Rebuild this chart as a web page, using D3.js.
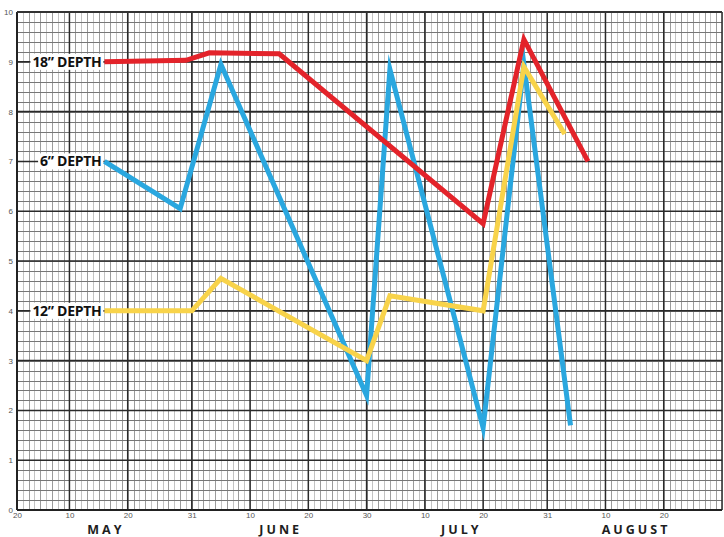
<!DOCTYPE html>
<html><head><meta charset="utf-8">
<script src="https://cdn.jsdelivr.net/npm/d3@7"></script>
<style>body{margin:0;background:#fff}svg{display:block}</style>
</head><body><svg id="c" width="724" height="537"></svg>
<script>
// ---- data ----
const xDomain = ['2021-05-01', '2021-08-30'];
const yDomain = [0, 10];
const tickDates = ['2021-05-01','2021-05-10','2021-05-20','2021-05-31','2021-06-10','2021-06-20','2021-06-30','2021-07-10','2021-07-20','2021-07-31','2021-08-10','2021-08-20'];
const tickLabels = ['20','10','20','31','10','20','30','10','20','31','10','20'];
const monthNames = ['MAY','JUNE','JULY','AUGUST'];
const monthCenters = ['2021-05-16','2021-06-15','2021-07-16','2021-08-15'];

const seriesNames = ['6” DEPTH', '12” DEPTH', '18” DEPTH'];
const seriesColors = ['#2aa7df', '#f8d34a', '#e3232a'];
const dates6 = ['2021-05-16','2021-05-29','2021-06-05','2021-06-30','2021-07-04','2021-07-20','2021-07-27','2021-08-04'];
const values6 = [7.0, 6.05, 8.95, 2.3, 8.85, 1.65, 8.95, 1.7];
const dates12 = ['2021-05-16','2021-05-31','2021-06-05','2021-06-30','2021-07-04','2021-07-20','2021-07-27','2021-08-03'];
const values12 = [4.0, 4.0, 4.65, 3.0, 4.3, 4.0, 8.9, 7.55];
const dates18 = ['2021-05-16','2021-05-30','2021-06-03','2021-06-15','2021-07-20','2021-07-27','2021-08-07'];
const values18 = [9.0, 9.03, 9.18, 9.16, 5.75, 9.45, 7.0];

// ---- setup ----
const parse = d3.utcParse('%Y-%m-%d');
const W = 724, H = 537;
const m = {left: 17, right: 2, top: 12, bottom: 27};
const svg = d3.select('#c');
const x = d3.scaleUtc().domain(xDomain.map(parse)).range([m.left, W - m.right]);
const y = d3.scaleLinear().domain(yDomain).range([H - m.bottom, m.top]);
const [x0, x1] = x.range();
const [yb, yt] = y.range();

const grid = svg.append('g');
// minor vertical (daily)
const days = d3.utcDay.range(parse(xDomain[0]), d3.utcDay.offset(parse(xDomain[1]), 1));
grid.selectAll('line.mv').data(days).join('line')
  .attr('x1', d => Math.round(x(d)) + 0.5).attr('x2', d => Math.round(x(d)) + 0.5)
  .attr('y1', yt).attr('y2', yb)
  .attr('stroke', (d, i) => i % 2 ? '#c4c4c4' : '#9c9c9c').attr('stroke-width', 1);
// minor horizontal
grid.selectAll('line.mh').data(y.ticks(40)).join('line')
  .attr('x1', x0).attr('x2', x1)
  .attr('y1', d => Math.round(y(d)) + 0.5).attr('y2', d => Math.round(y(d)) + 0.5)
  .attr('stroke', '#777').attr('stroke-width', 1);
// major vertical
grid.selectAll('line.Mv').data(tickDates.map(parse).concat([parse(xDomain[1])])).join('line')
  .attr('x1', d => x(d)).attr('x2', d => x(d))
  .attr('y1', yt).attr('y2', yb)
  .attr('stroke', '#2a2a2a').attr('stroke-width', 1.5);
// major horizontal
grid.selectAll('line.Mh').data(y.ticks(10)).join('line')
  .attr('x1', x0).attr('x2', x1)
  .attr('y1', d => y(d)).attr('y2', d => y(d))
  .attr('stroke', '#2a2a2a').attr('stroke-width', 1.5);
// frame
svg.append('line').attr('x1', x0).attr('x2', x0).attr('y1', yt).attr('y2', yb).attr('stroke', '#222').attr('stroke-width', 2);
svg.append('line').attr('x1', x0).attr('x2', x1).attr('y1', yb).attr('y2', yb).attr('stroke', '#222').attr('stroke-width', 2.2);
svg.append('line').attr('x1', x0).attr('x2', x1).attr('y1', yt).attr('y2', yt).attr('stroke', '#333').attr('stroke-width', 1.8);

// axes
const xAxis = svg.append('g').attr('transform', `translate(0,${yb})`)
  .call(d3.axisBottom(x).tickValues(tickDates.map(parse)).tickFormat((d, i) => tickLabels[i]).tickSize(0).tickPadding(2.5));
xAxis.select('.domain').remove();
xAxis.selectAll('text').attr('font-family', 'Liberation Sans Narrow, Liberation Sans, sans-serif').attr('font-size', 8).attr('fill', '#555');
const yAxis = svg.append('g').attr('transform', `translate(${x0},0)`)
  .call(d3.axisLeft(y).ticks(10).tickSize(0).tickPadding(4));
yAxis.select('.domain').remove();
yAxis.selectAll('text').attr('font-family', 'Liberation Sans Narrow, Liberation Sans, sans-serif').attr('font-size', 8).attr('fill', '#555');

// month labels
svg.append('g').selectAll('text').data(monthNames).join('text')
  .attr('x', (d, i) => x(parse(monthCenters[i])) + 1.5)
  .attr('y', H - 3.5)
  .attr('text-anchor', 'middle')
  .attr('font-family', 'Open Sans, sans-serif').attr('font-weight', 700)
  .attr('font-size', 12.5).attr('letter-spacing', 3).attr('fill', '#1e1e1e')
  .text(d => d);

// series
const allDates = [dates6, dates12, dates18];
const allValues = [values6, values12, values18];
const series = seriesNames.map((name, k) => ({
  name, color: seriesColors[k],
  pts: allDates[k].map((d, i) => ({date: parse(d), value: allValues[k][i]}))
}));

// labels with white boxes
const labG = svg.append('g');
series.forEach(s => {
  const p = s.pts[0];
  const t = labG.append('text')
    .attr('x', x(p.date) - 3).attr('y', y(p.value))
    .attr('dy', '0.36em').attr('text-anchor', 'end')
    .attr('font-family', 'Open Sans, sans-serif').attr('font-weight', 700)
    .attr('font-size', 14).attr('letter-spacing', -0.3).attr('fill', '#111')
    .text(s.name);
  const bb = t.node().getBBox();
  labG.insert('rect', () => t.node())
    .attr('x', bb.x - 2).attr('y', y(p.value) - 8)
    .attr('width', bb.width + 4).attr('height', 16).attr('fill', '#fff');
});

const line = d3.line().x(d => x(d.date)).y(d => y(d.value));
svg.append('g').selectAll('path').data(series).join('path')
  .attr('d', d => line(d.pts))
  .attr('fill', 'none').attr('stroke', d => d.color)
  .attr('stroke-width', 5).attr('stroke-linejoin', 'miter').attr('stroke-miterlimit', 10)
  .attr('stroke-linecap', 'butt');
</script></body></html>
